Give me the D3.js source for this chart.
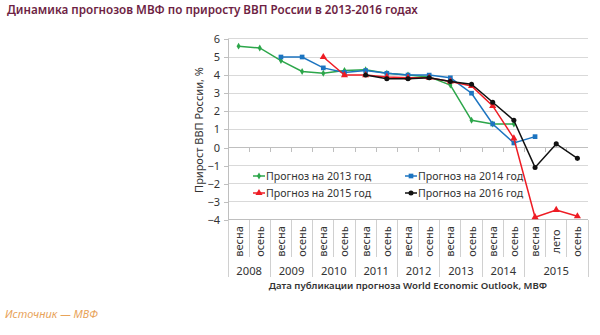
<!DOCTYPE html>
<html><head><meta charset="utf-8">
<script src="https://cdn.jsdelivr.net/npm/d3@7"></script>
<style>
html,body{margin:0;padding:0;background:#fff;}
svg{display:block;}
</style></head>
<body>
<svg id="chart" width="600" height="335"></svg>
<script>
const seasons = ["весна","осень","весна","осень","весна","осень","весна","осень","весна","осень","весна","осень","весна","осень","весна","лето","осень"];
const years = ["2008","2009","2010","2011","2012","2013","2014","2015"];
const yearSpans = [2,2,2,2,2,2,2,3];
const yTicks = [6,5,4,3,2,1,0,-1,-2,-3,-4];
const seriesNames = ["Прогноз на 2013 год","Прогноз на 2014 год","Прогноз на 2015 год","Прогноз на 2016 год"];
const g2013 = [5.6,5.5,4.8,4.2,4.1,4.25,4.3,4.1,4.0,3.9,3.45,1.5,1.3,1.3,null,null,null];
const b2014 = [null,null,5.0,5.0,4.4,4.15,4.25,4.1,4.0,4.0,3.85,3.0,1.3,0.25,0.6,null,null];
const r2015 = [null,null,null,null,5.0,4.0,4.0,3.9,3.85,3.85,3.65,3.4,2.3,0.5,-3.85,-3.45,-3.8];
const k2016 = [null,null,null,null,null,null,4.0,3.8,3.8,3.85,3.65,3.5,2.5,1.5,-1.1,0.2,-0.6];

const colors = ["#2ca64a","#1c74c0","#ee1c24","#111111"];
const symbols = [d3.symbolDiamond, d3.symbolSquare, d3.symbolTriangle, d3.symbolCircle];
const symSizes = [14, 22, 22, 20];
const allSeries = [g2013,b2014,r2015,k2016];

const svg = d3.select("#chart");
const FONT = "'Noto Sans', sans-serif";
const pL = 228, pR = 588, pT = 38.9, pB = 219.9;

const x = d3.scaleBand().domain(d3.range(seasons.length)).range([pL,pR]).padding(0);
const y = d3.scaleLinear().domain([-4,6]).range([pB,pT]);

// title
svg.append("text").attr("x",7).attr("y",14).attr("font-family",FONT).attr("font-size",11.7)
  .attr("font-weight",600).attr("fill","#6e1f44")
  .text("Динамика прогнозов МВФ по приросту ВВП России в 2013-2016 годах");

// gridlines
svg.append("g").selectAll("line").data(yTicks).join("line")
  .attr("x1",pL).attr("x2",pR).attr("y1",d=>y(d)).attr("y2",d=>y(d))
  .attr("stroke","#d9d9d9").attr("stroke-width",1).attr("shape-rendering","crispEdges");

// y axis
const yAxis = d3.axisLeft(y).tickValues(yTicks).tickSize(4).tickFormat(d3.format("d"));
const gy = svg.append("g").attr("transform",`translate(${pL},0)`).call(yAxis);
gy.select(".domain").attr("stroke","#bfbfbf");
gy.selectAll(".tick line").attr("stroke","#bfbfbf");
gy.selectAll(".tick text").attr("font-family",FONT).attr("font-size",11).attr("fill","#333").attr("x",-8);
gy.attr("shape-rendering","crispEdges");

// zero line with ticks
svg.append("line").attr("x1",pL).attr("x2",pR).attr("y1",y(0)).attr("y2",y(0))
  .attr("stroke","#bfbfbf").attr("shape-rendering","crispEdges");
svg.append("g").selectAll("line").data(d3.range(1,seasons.length)).join("line")
  .attr("x1",d=>x(d)).attr("x2",d=>x(d)).attr("y1",y(0)).attr("y2",y(0)+4)
  .attr("stroke","#bfbfbf").attr("shape-rendering","crispEdges");

// category axis (bottom)
svg.append("line").attr("x1",pL).attr("x2",pR).attr("y1",pB).attr("y2",pB)
  .attr("stroke","#bfbfbf").attr("shape-rendering","crispEdges");
const yearStarts = [];
{ let acc=0; yearSpans.forEach(s=>{yearStarts.push(acc); acc+=s;}); yearStarts.push(acc); }
const boundaries = d3.range(0,seasons.length+1);
svg.append("g").selectAll("line").data(boundaries).join("line")
  .attr("x1",d=>d<seasons.length?x(d):pR).attr("x2",d=>d<seasons.length?x(d):pR)
  .attr("y1",pB).attr("y2",d=>yearStarts.includes(d)?277:257)
  .attr("stroke","#d0d0d0").attr("shape-rendering","crispEdges");

svg.append("g").selectAll("text").data(seasons).join("text")
  .attr("transform",(d,i)=>`translate(${x(i)+x.bandwidth()/2+4},${241.5}) rotate(-90)`)
  .attr("text-anchor","middle").attr("font-family",FONT).attr("font-size",11).attr("fill","#333")
  .text(d=>d);

svg.append("g").selectAll("text").data(years).join("text")
  .attr("x",(d,i)=>{const s=yearStarts[i], e=yearStarts[i+1]; return (x(s)+(e<seasons.length?x(e):pR))/2;})
  .attr("y",275).attr("text-anchor","middle").attr("font-family",FONT).attr("font-size",11.2).attr("fill","#333")
  .text(d=>d);

// axis titles
svg.append("text").attr("x",408).attr("y",289).attr("text-anchor","middle").attr("font-family",FONT)
  .attr("font-size",9.6).attr("font-weight",600).attr("fill","#333")
  .text("Дата публикации прогноза World Economic Outlook, МВФ");
svg.append("text").attr("transform","translate(203,130) rotate(-90)").attr("text-anchor","middle")
  .attr("font-family",FONT).attr("font-size",11).attr("fill","#333").text("Прирост ВВП России, %");

// series
const line = d3.line().defined(d=>d!=null).x((d,i)=>x(i)+x.bandwidth()/2).y(d=>y(d));
allSeries.forEach((s,k)=>{
  const g = svg.append("g");
  g.append("path").datum(s).attr("d",line).attr("fill","none").attr("stroke",colors[k]).attr("stroke-width",1.5);
  g.selectAll("path.m").data(s.map((v,i)=>({v,i})).filter(d=>d.v!=null)).join("path").attr("class","m")
    .attr("transform",d=>`translate(${x(d.i)+x.bandwidth()/2},${y(d.v)})`)
    .attr("d",d3.symbol().type(symbols[k]).size(symSizes[k])).attr("fill",colors[k]);
});

// legend
const legPos = [[253,176],[405,176],[253,193],[405,193]];
seriesNames.forEach((n,k)=>{
  const [lx,ly] = legPos[k];
  const g = svg.append("g").attr("transform",`translate(${lx},${ly})`);
  g.append("line").attr("x1",0).attr("x2",12).attr("stroke",colors[k]).attr("stroke-width",1.5);
  g.append("path").attr("transform","translate(6,0)").attr("d",d3.symbol().type(symbols[k]).size(symSizes[k])).attr("fill",colors[k]);
  g.append("text").attr("x",13).attr("y",4).attr("font-family",FONT).attr("font-size",10.6).attr("fill","#333").text(n);
});

// source
svg.append("text").attr("x",5).attr("y",318).attr("font-family",FONT).attr("font-size",11)
  .attr("font-style","italic").attr("fill","#e8a35a").text("Источник — МВФ");
</script>
</body></html>
